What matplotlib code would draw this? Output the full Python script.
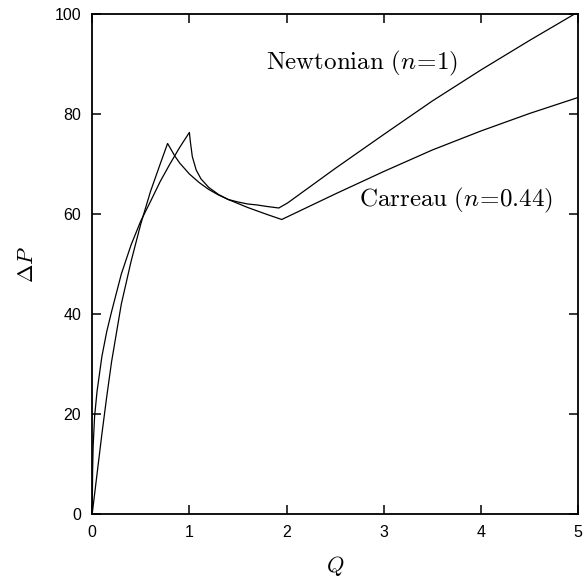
import matplotlib
matplotlib.use("Agg")
import matplotlib.pyplot as plt

plt.rcParams['mathtext.fontset'] = 'cm'
plt.rcParams['font.family'] = ['Liberation Sans', 'DejaVu Sans']

# Newtonian (n=1): rising branch, cusp at Q=1, shallow minimum, then straight-ish rise
q_newt = [0, 0.005, 0.01, 0.025, 0.05, 0.1, 0.15, 0.2, 0.3, 0.4, 0.5, 0.6, 0.7, 0.8, 0.9, 1.0,
          1.01, 1.03, 1.07, 1.12, 1.2, 1.3, 1.4, 1.5, 1.6, 1.7, 1.8, 1.92,
          2.01, 2.5, 3.0, 3.5, 4.0, 4.5, 5.0]
dp_newt = [0, 9, 13.5, 19.5, 24.5, 31.5, 36.5, 40.5, 48, 53.8, 58.6, 62.5, 66.5, 70, 73.3, 76.3,
           74.5, 71.5, 68.8, 67.0, 65.3, 63.9, 62.9, 62.4, 62.0, 61.8, 61.5, 61.2,
           62.2, 69.1, 75.9, 82.6, 88.8, 94.7, 100.4]

# Carreau (n=0.44)
q_carr = [0, 0.05, 0.1, 0.15, 0.2, 0.3, 0.4, 0.5, 0.6, 0.7, 0.776,
          0.85, 0.9, 1.0, 1.1, 1.2, 1.3, 1.4, 1.5, 1.6, 1.7, 1.8, 1.95,
          2.5, 3.0, 3.5, 4.0, 4.5, 5.0]
dp_carr = [0, 8, 16, 23.5, 30.5, 42, 50.5, 58, 64.5, 70, 74.1,
           71.6, 70.2, 68.0, 66.3, 64.9, 63.8, 62.9, 62.1, 61.3, 60.6, 59.9, 58.9,
           64.0, 68.5, 72.8, 76.6, 80.1, 83.3]

fig = plt.figure(figsize=(5.87, 5.79), dpi=100)
ax = fig.add_axes([0.157, 0.112, 0.828, 0.864])

ax.plot(q_newt, dp_newt, color='black', lw=0.9)
ax.plot(q_carr, dp_carr, color='black', lw=0.9)

ax.text(1.79, 90.0, r'$\mathrm{Newtonian}\ (n\!=\!1)$', fontsize=18, va='center')
ax.text(2.75, 62.8, r'$\mathrm{Carreau}\ (n\!=\!0.44)$', fontsize=18, va='center')

ax.set_xlim(0, 5)
ax.set_ylim(0, 100)
ax.set_xticks([0, 1, 2, 3, 4, 5])
ax.set_yticks([0, 20, 40, 60, 80, 100])
ax.tick_params(direction='in', length=6.5, width=1.1, top=True, right=True,
               labelsize=11.5, pad=8)
for s in ax.spines.values():
    s.set_linewidth(1.3)

ax.set_xlabel(r'$Q$', fontsize=16, labelpad=10)
ax.set_ylabel(r'$\Delta P$', fontsize=16, labelpad=12)

fig.savefig('out.png', dpi=100)
